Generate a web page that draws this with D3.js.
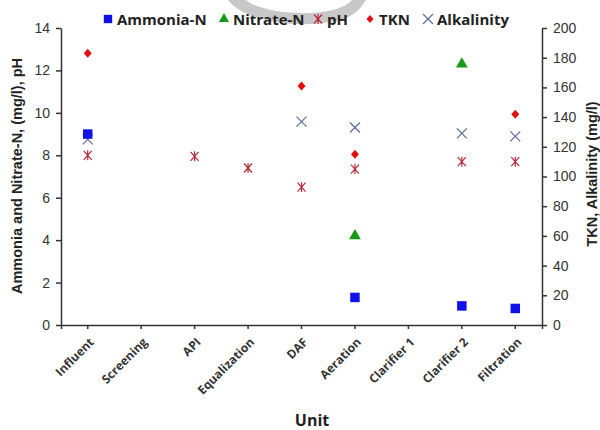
<!DOCTYPE html>
<head>
  <meta charset="utf-8">
  <script src="https://d3js.org/d3.v7.min.js"></script>
  <style>
    body { margin: 0; background: #fff; }
    text { font-family: "Liberation Sans", Arial, sans-serif; }
    .axis path, .axis line { stroke: #333; stroke-width: 1.5; }
    .axis text { font-size: 14px; fill: #333; }
  </style>
</head>
<body>
  <div id="graph"></div>
  <script>
    // categories and values (null = no measurement)
    var units = ["Influent", "Screening", "API", "Equalization", "DAF", "Aeration", "Clarifier 1", "Clarifier 2", "Filtration"];
    var ammonia = [9.0, null, null, null, null, 1.3, null, 0.9, 0.78];
    var nitrate = [null, null, null, null, null, 4.2, null, 12.3, null];
    var ph = [8.0, null, 7.95, 7.4, 6.5, 7.35, null, 7.7, 7.7];
    var tkn = [183, null, null, null, 161, 115, null, null, 142];
    var alkalinity = [125, null, null, null, 137, 133, null, 129, 127];
    var leftTicks = [0, 2, 4, 6, 8, 10, 12, 14];
    var rightTicks = [0, 20, 40, 60, 80, 100, 120, 140, 160, 180, 200];

    var width = 600, height = 430;
    var margin = { left: 61, right: 58, top: 28, bottom: 105 };

    var svg = d3.select("#graph").append("svg")
      .attr("width", width)
      .attr("height", height);

    // watermark blob at the top
    svg.append("path")
      .attr("d", "M228,0 C245,22 300,30 340,20 C352,17 360,10 366,0 L352,0 C345,8 330,12 310,13 C280,14 255,8 246,0 Z")
      .attr("fill", "#c8c8c8");

    var x = d3.scaleBand()
      .domain(units)
      .range([margin.left, width - margin.right]);

    var yL = d3.scaleLinear()
      .domain([0, 14])
      .range([height - margin.bottom, margin.top]);

    var yR = d3.scaleLinear()
      .domain([0, 200])
      .range([height - margin.bottom, margin.top]);

    // axes
    var gx = svg.append("g")
      .attr("class", "axis")
      .attr("transform", "translate(0," + (height - margin.bottom) + ")")
      .call(d3.axisBottom(x).tickSizeOuter(0).tickSize(4));
    gx.selectAll("text")
      .attr("text-anchor", "end")
      .attr("x", 0).attr("y", 0).attr("dy", "0.35em")
      .attr("transform", "translate(4,15) rotate(-45)")
      .style("font-family", "'Open Sans', sans-serif")
      .style("font-weight", "bold")
      .style("font-size", "12px")
      .attr("fill", "#222");

    svg.append("g")
      .attr("class", "axis")
      .attr("transform", "translate(" + margin.left + ",0)")
      .call(d3.axisLeft(yL).tickValues(leftTicks).tickSize(5).tickSizeOuter(0).tickPadding(6));

    svg.append("g")
      .attr("class", "axis")
      .attr("transform", "translate(" + (width - margin.right) + ",0)")
      .call(d3.axisRight(yR).tickValues(rightTicks).tickSize(5).tickSizeOuter(0).tickPadding(6));

    // axis titles
    svg.append("text")
      .attr("transform", "translate(22,176) rotate(-90)")
      .attr("text-anchor", "middle")
      .style("font-weight", "bold")
      .style("font-size", "14.5px")
      .attr("fill", "#222")
      .text("Ammonia and Nitrate-N, (mg/l), pH");

    svg.append("text")
      .attr("transform", "translate(597,174) rotate(-90)")
      .attr("text-anchor", "middle")
      .style("font-weight", "bold")
      .style("font-size", "14.5px")
      .attr("fill", "#222")
      .text("TKN, Alkalinity (mg/l)");

    svg.append("text")
      .attr("x", 312).attr("y", 426)
      .attr("text-anchor", "middle")
      .style("font-family", "'Open Sans', sans-serif")
      .style("font-weight", "bold")
      .style("font-size", "16px")
      .attr("fill", "#222")
      .text("Unit");

    // marker shapes
    var sym = {
      square: d3.symbol().type(d3.symbolSquare).size(90)(),
      triangle: d3.symbol().type(d3.symbolTriangle).size(60)(),
      diamond: "M0,-4.5L4,0L0,4.5L-4,0Z",
      star: "M-4,-4.5L4,4.5M4,-4.5L-4,4.5M0,-5L0,5",
      cross: "M-5,-5L5,5M5,-5L-5,5"
    };

    var series = [
      { name: "Ammonia-N", data: ammonia, y: yL, shape: "square", fill: "#1010e8", stroke: "none" },
      { name: "Nitrate-N", data: nitrate, y: yL, shape: "triangle", fill: "#159a15", stroke: "none" },
      { name: "pH", data: ph, y: yL, shape: "star", fill: "none", stroke: "#b8283a" },
      { name: "TKN", data: tkn, y: yR, shape: "diamond", fill: "#e01010", stroke: "none" },
      { name: "Alkalinity", data: alkalinity, y: yR, shape: "cross", fill: "none", stroke: "#5c6a96" }
    ];

    var plot = svg.append("g");
    series.slice().reverse().forEach(function(s) {
      var pts = s.data.map(function(v, i) { return { u: units[i], v: v }; })
        .filter(function(d) { return d.v !== null; });
      plot.selectAll(null).data(pts).enter()
        .append("path")
        .attr("d", sym[s.shape])
        .attr("transform", function(d) {
          return "translate(" + (x(d.u) + x.bandwidth() / 2) + "," + s.y(d.v) + ")";
        })
        .attr("fill", s.fill)
        .attr("stroke", s.stroke)
        .attr("stroke-width", 1.2);
    });

    // legend
    var legendX = [108, 224, 318, 370, 428];
    var legend = svg.append("g");
    series.forEach(function(s, i) {
      var g = legend.append("g").attr("transform", "translate(" + legendX[i] + ",19)");
      g.append("path")
        .attr("d", s.shape === "square" ? d3.symbol().type(d3.symbolSquare).size(70)() :
          s.shape === "triangle" ? d3.symbol().type(d3.symbolTriangle).size(45)() :
          s.shape === "diamond" ? "M0,-4L3.5,0L0,4L-3.5,0Z" : sym[s.shape])
        .attr("fill", s.fill)
        .attr("stroke", s.stroke)
        .attr("stroke-width", 1.2);
      g.append("text")
        .attr("x", 9).attr("y", 5.5)
        .style("font-family", "'Open Sans', sans-serif")
        .style("font-weight", "bold")
        .style("font-size", "15px")
        .attr("fill", "#222")
        .text(s.name);
    });
  </script>
</body>
